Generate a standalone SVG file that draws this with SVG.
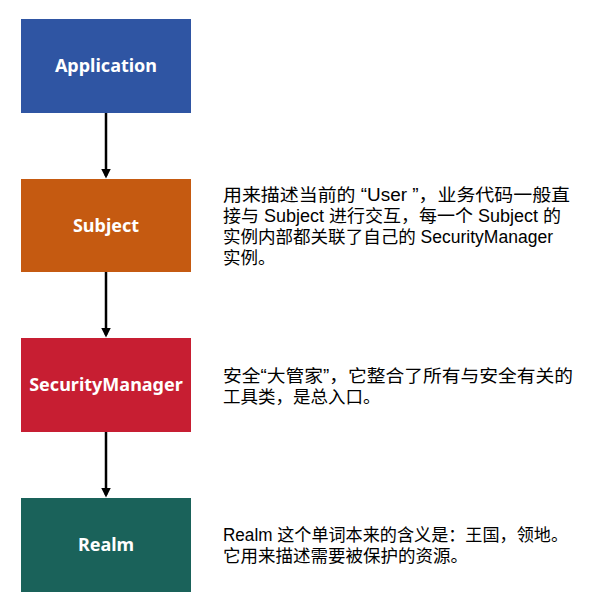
<svg xmlns="http://www.w3.org/2000/svg" width="605" height="612" viewBox="0 0 605 612">
<style>
.box-label{font-family:"Noto Sans","Noto Sans CJK SC",sans-serif;font-weight:bold;font-size:18px;fill:#ffffff;text-anchor:middle}
.desc{font-family:"Liberation Sans","Noto Sans CJK SC",sans-serif;font-size:17.5px;fill:#000000}
.conn{stroke:#000000;stroke-width:2.5;fill:none}
</style>
<defs>
<marker id="arrow" markerWidth="4" markerHeight="4" refX="3" refY="2" orient="auto" markerUnits="strokeWidth">
<path d="M0,0 L4,2 L0,4 Z" fill="#000000"/>
</marker>
</defs>
<rect width="605" height="612" fill="#ffffff"/>
<g id="connectors">
<line class="conn" x1="106" y1="113" x2="106" y2="176" marker-end="url(#arrow)"/>
<line class="conn" x1="106" y1="272" x2="106" y2="335" marker-end="url(#arrow)"/>
<line class="conn" x1="106" y1="432" x2="106" y2="495" marker-end="url(#arrow)"/>
</g>
<g id="application">
<rect x="21" y="19" width="170" height="94" fill="#2F55A3"/>
<text class="box-label" x="106" y="72">Application</text>
</g>
<g id="subject">
<rect x="21" y="179" width="170" height="93" fill="#C55A11"/>
<text class="box-label" x="106" y="232">Subject</text>
</g>
<g id="securitymanager">
<rect x="21" y="338" width="170" height="94" fill="#C71E32"/>
<text class="box-label" x="106" y="391">SecurityManager</text>
</g>
<g id="realm">
<rect x="21" y="498" width="170" height="94" fill="#1A625A"/>
<text class="box-label" x="106" y="551">Realm</text>
</g>
<g id="subject-desc">
<text class="desc"><tspan x="223" y="201" textLength="347" lengthAdjust="spacingAndGlyphs">用来描述当前的 “User ”，业务代码一般直</tspan><tspan x="223" y="222" textLength="338" lengthAdjust="spacingAndGlyphs">接与 Subject 进行交互，每一个 Subject 的</tspan><tspan x="223" y="243" textLength="330" lengthAdjust="spacingAndGlyphs">实例内部都关联了自己的 SecurityManager</tspan><tspan x="223" y="264">实例。</tspan></text>
</g>
<g id="securitymanager-desc">
<text class="desc"><tspan x="223" y="382" textLength="350" lengthAdjust="spacingAndGlyphs">安全“大管家”，它整合了所有与安全有关的</tspan><tspan x="223" y="403">工具类，是总入口。</tspan></text>
</g>
<g id="realm-desc">
<text class="desc"><tspan x="223" y="541" textLength="345" lengthAdjust="spacingAndGlyphs">Realm 这个单词本来的含义是：王国，领地。</tspan><tspan x="223" y="562">它用来描述需要被保护的资源。</tspan></text>
</g>
</svg>
